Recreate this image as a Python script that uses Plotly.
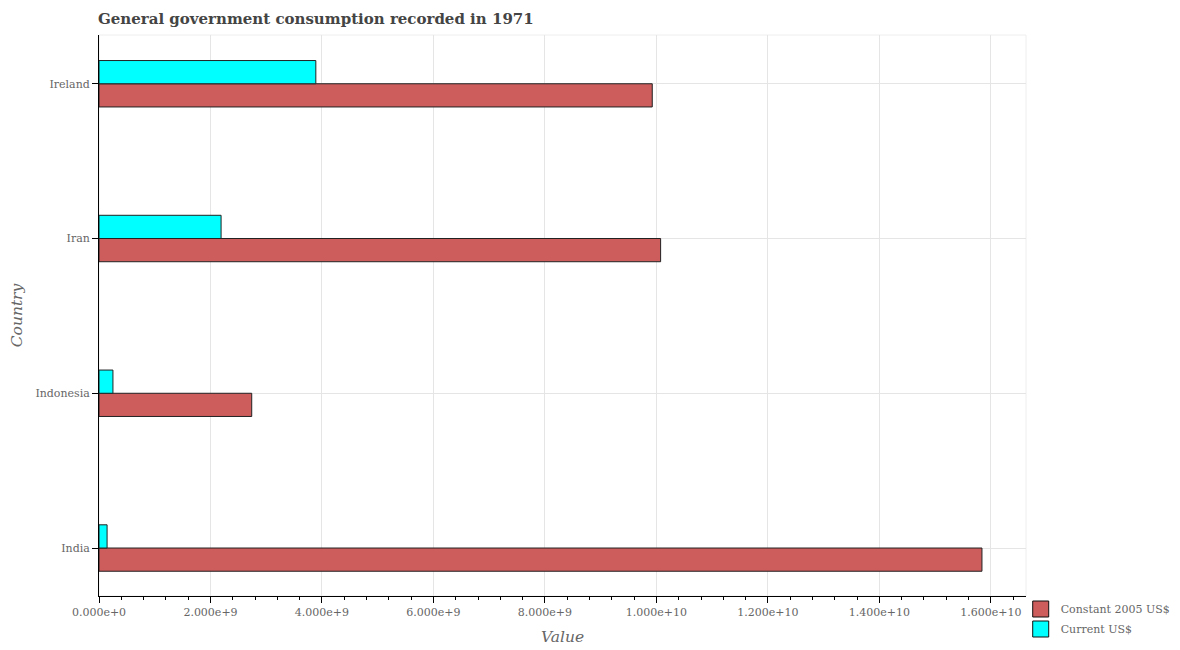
import plotly.graph_objects as go

countries = ["India", "Indonesia", "Iran", "Ireland"]
constant_2005 = [1.584e10, 2.74e9, 1.0075e10, 9.925e9]
current_usd = [1.45e8, 2.5e8, 2.19e9, 3.89e9]
FONT = "DejaVu Serif"
L, R, T, B = 90.5, 161.7, 27, 61.5
PW, PH = 1180 - L - R, 650 - T - B

fig = go.Figure()
fig.add_bar(y=countries, x=constant_2005, orientation="h", width=0.15, offset=-0.15,
            marker=dict(color="#cd5c5c", line=dict(color="#222222", width=1)), showlegend=False)
fig.add_bar(y=countries, x=current_usd, orientation="h", width=0.15, offset=0,
            marker=dict(color="#00ffff", line=dict(color="#222222", width=1)), showlegend=False)
fig.add_scatter(x=[None], y=[None], mode="markers", name="Constant 2005 US$", legendgroup="a",
                marker=dict(symbol="square", size=16, color="#cd5c5c", line=dict(color="#111111", width=1)))
fig.add_scatter(x=[None], y=[None], mode="markers", name="Current US$", legendgroup="b",
                marker=dict(symbol="square", size=16, color="#00ffff", line=dict(color="#111111", width=1)))

fig.update_layout(
    width=1180, height=650, autosize=False, barmode="overlay",
    margin=dict(l=L, r=R, t=T, b=B, autoexpand=False),
    paper_bgcolor="white", plot_bgcolor="white",
    font=dict(family=FONT, size=11, color="#666666"),
    title=dict(text="<b>General government consumption recorded in 1971</b>",
               x=90 / 1180, xanchor="left", y=1 - 10.5 / 650, yanchor="middle",
               font=dict(family=FONT, size=15, color="#444444")),
    legend=dict(x=(1013 - L) / PW, xanchor="left", y=1 - (587 - T) / PH, yanchor="top",
                font=dict(family=FONT, size=11, color="#666666"),
                tracegroupgap=1, itemwidth=30, bgcolor="rgba(0,0,0,0)"),
    xaxis=dict(range=[0, 16.63e9], tickvals=[i * 2e9 for i in range(9)], tickformat=".3e",
               showgrid=True, gridcolor="#e5e5e5", gridwidth=1, zeroline=False,
               ticks="outside", ticklen=6, tickcolor="black", tickwidth=1, automargin=False,
               showline=True, linecolor="black", linewidth=1, mirror=False,
               minor=dict(dtick=4e8, ticks="outside", ticklen=3, tickcolor="black", tickwidth=1, showgrid=False),
               title=dict(text="<i>Value</i>", font=dict(family=FONT, size=15.5, color="#666666"), standoff=12)),
    yaxis=dict(type="category", categoryorder="array", categoryarray=countries, range=[-0.31, 3.315],
               showgrid=True, gridcolor="#e5e5e5", gridwidth=1, zeroline=False, automargin=False,
               ticks="outside", ticklen=6, tickcolor="black", tickwidth=1,
               showline=True, linecolor="black", linewidth=1,
               title=dict(text="<i>Country</i>", font=dict(family=FONT, size=15.5, color="#666666"), standoff=22)),
    shapes=[dict(type="rect", xref="paper", yref="paper", x0=0, x1=1, y0=0, y1=1,
                 line=dict(color="#eeeeee", width=1), layer="below")],
)
fig.write_html("out.html")
